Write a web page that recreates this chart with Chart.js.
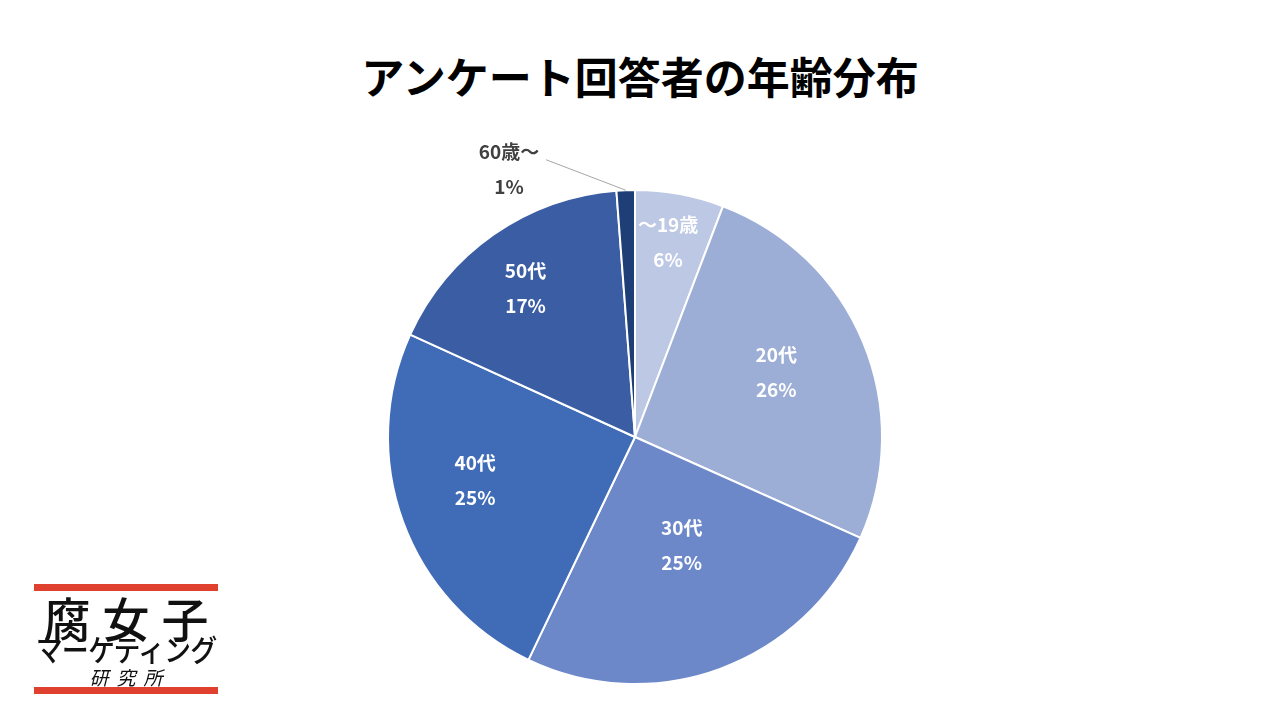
<!DOCTYPE html>
<html>
<head>
<meta charset="utf-8">
<script src="https://cdn.jsdelivr.net/npm/chart.js@4"></script>
<style>
  html, body { margin: 0; padding: 0; background: #fff; }
  body { width: 1280px; height: 720px; position: relative; overflow: hidden;
         font-family: "Noto Sans CJK JP", "Noto Sans", sans-serif; }
  #title { position: absolute; left: 0; top: 45px; width: 1280px; text-align: center;
           font-size: 43px; font-weight: bold; color: #000; line-height: 60px; }
  #wrap { position: absolute; left: 0; top: 0; width: 1280px; height: 720px; }
  .logo { position: absolute; left: 34px; top: 584px; width: 184px; height: 110px; }
  .logo div { white-space: nowrap; }
  .logo .bar { position: absolute; left: 0; width: 184px; height: 7px; background: #e0402e; }
  .logo .t1 { position: absolute; left: -10px; top: 7px; width: 204px; text-align: center;
              font-size: 47px; line-height: 52px; letter-spacing: 12px; text-indent: 12px;
              font-weight: 500; color: #111; }
  .logo .t2 { position: absolute; left: -10px; top: 47px; width: 204px; text-align: center;
              font-size: 30px; line-height: 34px; letter-spacing: -1px; color: #111;
              font-weight: 500; transform: scaleX(0.9); }
  .logo .t3 { position: absolute; left: 0; top: 82px; width: 184px; text-align: center;
              font-size: 19px; line-height: 22px; letter-spacing: 8px; text-indent: 8px;
              color: #111; font-style: italic; }
</style>
</head>
<body>
<div id="title">アンケート回答者の年齢分布</div>
<div id="wrap"><canvas id="pie-chart" width="1280" height="720"></canvas></div>
<div class="logo">
  <div class="bar" style="top:0"></div>
  <div class="t1">腐女子</div>
  <div class="t2">マーケティング</div>
  <div class="t3">研究所</div>
  <div class="bar" style="top:103px"></div>
</div>
<script>
var labels = ['～19歳', '20代', '30代', '40代', '50代', '60歳～'];
var values = [5.8, 25.9, 25.4, 24.7, 17.0, 1.2];
var colors = ['#bdc8e4', '#9cadd6', '#6d88c9', '#3f6bb7', '#3a5da4', '#1e3e78'];

// label placement: fraction of radius, angle shift (deg), text colour
var labelRadius = [0.80, 0.63, 0.475, 0.67, 0.75, 1.2];
var labelShift = [-0.8, -2.3, -3.3, 5, -1.3, -23];
var labelColor = ['#fff', '#fff', '#fff', '#fff', '#fff', '#404040'];

var pieLabels = {
    id: 'pieLabels',
    afterDatasetsDraw: function(chart) {
        var ctx = chart.ctx;
        var meta = chart.getDatasetMeta(0);
        ctx.save();
        ctx.font = 'bold 19px "Noto Sans CJK JP", "Noto Sans", sans-serif';
        ctx.textAlign = 'center';
        ctx.textBaseline = 'middle';
        meta.data.forEach(function(arc, i) {
            var p = arc.getProps(['x', 'y', 'startAngle', 'endAngle', 'outerRadius'], true);
            var mid = (p.startAngle + p.endAngle) / 2;
            var a = mid + labelShift[i] * Math.PI / 180;
            var r = p.outerRadius * labelRadius[i];
            var x = p.x + Math.cos(a) * r;
            var y = p.y + Math.sin(a) * r;
            if (labelRadius[i] > 1) {
                ctx.strokeStyle = '#a6a6a6';
                ctx.lineWidth = 1;
                ctx.beginPath();
                ctx.moveTo(x + 37, y - 9);
                ctx.lineTo(p.x + Math.cos(mid) * p.outerRadius, p.y + Math.sin(mid) * p.outerRadius);
                ctx.stroke();
            }
            ctx.fillStyle = labelColor[i];
            ctx.fillText(labels[i], x, y - 17);
            ctx.fillText(Math.round(values[i]) + '%', x, y + 18);
        });
        ctx.restore();
    }
};

new Chart(document.getElementById('pie-chart'), {
    type: 'pie',
    data: {
        labels: labels,
        datasets: [{
            data: values,
            backgroundColor: colors,
            borderColor: '#fff',
            borderWidth: 2
        }]
    },
    options: {
        responsive: false,
        animation: false,
        layout: { padding: { top: 189, bottom: 35, left: 387, right: 397 } },
        plugins: {
            legend: { display: false },
            tooltip: { enabled: false }
        }
    },
    plugins: [pieLabels]
});
</script>
</body>
</html>
